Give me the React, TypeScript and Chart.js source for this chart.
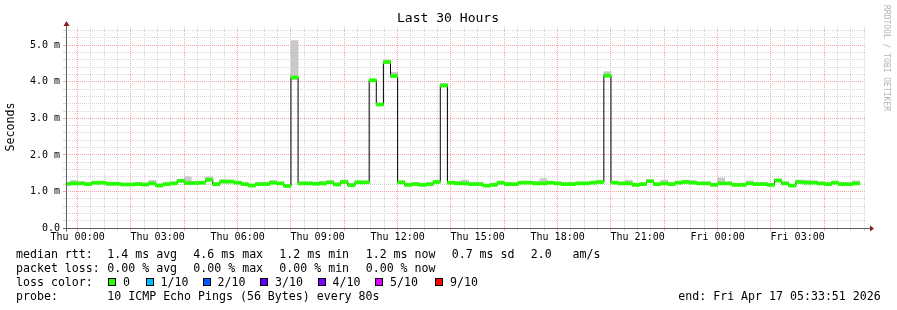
import React, { useEffect, useRef } from 'react';
import { Chart, registerables } from 'chart.js';

Chart.register(...registerables);

// ---- time layout (minutes relative to Thu 00:00) ----
const STEP_MIN = 16; // RRD consolidation step
const FIRST_BIN_START = -32;
const X_MIN = -26.15; // Wed 23:33:51
const X_MAX = 1773.85; // Fri 05:33:51
const X_GRID_MIN = 30;
const X_MAJOR_MIN = 120;
const X_LABEL_MIN = 180;
const DAY_NAMES = ['Thu', 'Fri'];

// ---- values axis (ms) ----
const Y_MAX = 5.5;
const Y_GRID = 0.2;

// ---- series (ms), one value per 16-minute bin ----
const medianRtt = [
  1.21, 1.22, 1.22, 1.20, 1.24, 1.24, 1.21, 1.21, 1.19, 1.19, 1.20, 1.19, 1.22, 1.16, 1.20, 1.22,
  1.29, 1.23, 1.23, 1.24, 1.32, 1.20, 1.27, 1.27, 1.24, 1.20, 1.16, 1.20, 1.20, 1.24, 1.22, 1.15,
  4.12, 1.22, 1.22, 1.21, 1.22, 1.25, 1.19, 1.26, 1.17, 1.25, 1.25, 4.04, 3.38, 4.54, 4.16, 1.25,
  1.18, 1.20, 1.18, 1.20, 1.26, 3.90, 1.24, 1.22, 1.22, 1.20, 1.20, 1.16, 1.18, 1.24, 1.20, 1.20,
  1.24, 1.24, 1.22, 1.22, 1.24, 1.22, 1.20, 1.20, 1.22, 1.22, 1.24, 1.26, 4.17, 1.24, 1.22, 1.22,
  1.18, 1.20, 1.28, 1.20, 1.22, 1.20, 1.24, 1.26, 1.24, 1.22, 1.22, 1.18, 1.22, 1.22, 1.18, 1.18,
  1.22, 1.20, 1.20, 1.18, 1.30, 1.22, 1.16, 1.26, 1.24, 1.24, 1.22, 1.20, 1.24, 1.20, 1.20, 1.22,
];
const smokeHigh = [
  1.25, 1.30, 1.27, 1.24, 1.27, 1.28, 1.25, 1.24, 1.23, 1.23, 1.25, 1.23, 1.30, 1.21, 1.24, 1.26,
  1.32, 1.40, 1.27, 1.28, 1.40, 1.24, 1.32, 1.31, 1.28, 1.24, 1.21, 1.24, 1.25, 1.30, 1.26, 1.19,
  5.13, 1.26, 1.26, 1.25, 1.28, 1.29, 1.24, 1.31, 1.22, 1.29, 1.28, 4.08, 3.42, 4.60, 4.26, 1.29,
  1.22, 1.25, 1.22, 1.24, 1.30, 3.96, 1.28, 1.28, 1.31, 1.24, 1.25, 1.20, 1.22, 1.28, 1.25, 1.24,
  1.28, 1.28, 1.28, 1.35, 1.28, 1.26, 1.24, 1.25, 1.26, 1.26, 1.28, 1.30, 4.28, 1.28, 1.26, 1.31,
  1.23, 1.24, 1.32, 1.24, 1.31, 1.24, 1.28, 1.30, 1.30, 1.26, 1.26, 1.22, 1.37, 1.26, 1.22, 1.23,
  1.29, 1.24, 1.25, 1.22, 1.34, 1.26, 1.20, 1.31, 1.31, 1.29, 1.26, 1.24, 1.28, 1.25, 1.24, 1.29,
];
const smokeLow = [
  1.16, 1.18, 1.19, 1.17, 1.20, 1.20, 1.17, 1.18, 1.16, 1.16, 1.17, 1.15, 1.18, 1.13, 1.17, 1.19,
  1.25, 1.19, 1.20, 1.20, 1.28, 1.17, 1.23, 1.23, 1.21, 1.17, 1.13, 1.17, 1.17, 1.21, 1.19, 1.12,
  4.06, 1.19, 1.19, 1.18, 1.19, 1.22, 1.16, 1.22, 1.14, 1.22, 1.22, 4.01, 3.35, 4.50, 4.12, 1.21,
  1.15, 1.17, 1.15, 1.17, 1.23, 3.86, 1.21, 1.19, 1.19, 1.17, 1.17, 1.13, 1.15, 1.20, 1.17, 1.17,
  1.21, 1.21, 1.18, 1.19, 1.21, 1.19, 1.17, 1.17, 1.19, 1.19, 1.21, 1.23, 4.13, 1.21, 1.19, 1.19,
  1.15, 1.17, 1.24, 1.17, 1.19, 1.17, 1.21, 1.22, 1.21, 1.19, 1.19, 1.15, 1.19, 1.19, 1.15, 1.15,
  1.19, 1.17, 1.17, 1.15, 1.26, 1.19, 1.13, 1.22, 1.21, 1.21, 1.19, 1.17, 1.21, 1.17, 1.17, 1.19,
];

// ---- legend text ----
const TITLE = 'Last 30 Hours';
const Y_TITLE = 'Seconds';
const rttLabel = 'median rtt:';
const rttStats = ['1.4 ms avg', '4.6 ms max', '1.2 ms min', '1.2 ms now', '0.7 ms sd', '2.0   am/s'];
const lossLabel = 'packet loss:';
const lossStats = ['0.00 % avg', '0.00 % max', '0.00 % min', '0.00 % now'];
const lossColorLabel = 'loss color:';
const lossLabels = ['0', '1/10', '2/10', '3/10', '4/10', '5/10', '9/10'];
const lossColors = ['#26ff00', '#00b8ff', '#0059ff', '#5e00ff', '#7e00ff', '#dd00ff', '#ff0000'];
const probeLabel = 'probe:';
const probeText = '10 ICMP Echo Pings (56 Bytes) every 80s';
const endText = 'end: Fri Apr 17 05:33:51 2026';
const WATERMARK = 'RRDTOOL / TOBI OETIKER';

const MONO = '"DejaVu Sans Mono", monospace';
const MINOR_GRID = '#d6d6d6';
const MAJOR_GRID = '#f4a4a4';
const AXIS_COLOR = '#606060';
const ARROW_COLOR = '#8c1c1c';
const SMOKE_COLOR = '#c8c8c8';
const GREEN_HALF = 0.041;

function xLabel(v: number): string {
  if (Math.round(v) % X_LABEL_MIN !== 0) return '';
  const day = Math.floor(v / 1440);
  const mins = v - day * 1440;
  const hh = String(Math.floor(mins / 60)).padStart(2, '0');
  const mm = String(mins % 60).padStart(2, '0');
  return `${DAY_NAMES[day]} ${hh}:${mm}`;
}

function yLabel(v: number): string {
  if (Math.abs(v - Math.round(v)) > 1e-6) return '';
  return Math.round(v) === 0 ? '0.0' : `${v.toFixed(1)} m`;
}

const decorPlugin = {
  id: 'rrdDecor',
  afterDraw(chart: any) {
    const ctx = chart.ctx as CanvasRenderingContext2D;
    const area = chart.chartArea;
    const ys = chart.scales.y;
    ctx.save();

    // axes
    const y0 = Math.round(ys.getPixelForValue(0) - 0.5) + 0.5;
    const xAxis = area.left + 0.5;
    ctx.strokeStyle = AXIS_COLOR;
    ctx.lineWidth = 1;
    ctx.beginPath();
    ctx.moveTo(area.left - 3, y0);
    ctx.lineTo(area.right + 4, y0);
    ctx.moveTo(xAxis, y0 + 3);
    ctx.lineTo(xAxis, area.top - 3);
    ctx.stroke();
    // arrows
    ctx.fillStyle = ARROW_COLOR;
    ctx.beginPath();
    ctx.moveTo(area.right + 4, y0 - 3);
    ctx.lineTo(area.right + 8, y0);
    ctx.lineTo(area.right + 4, y0 + 3);
    ctx.closePath();
    ctx.fill();
    ctx.beginPath();
    ctx.moveTo(xAxis - 3, area.top - 1);
    ctx.lineTo(xAxis, area.top - 6);
    ctx.lineTo(xAxis + 3, area.top - 1);
    ctx.closePath();
    ctx.fill();

    // title
    ctx.fillStyle = '#000';
    ctx.textBaseline = 'middle';
    ctx.textAlign = 'center';
    ctx.font = `13.05px ${MONO}`;
    ctx.fillText(TITLE, 448, 19);

    // y axis title
    ctx.save();
    ctx.translate(11, 127);
    ctx.rotate(-Math.PI / 2);
    ctx.font = `11.6px ${MONO}`;
    ctx.fillText(Y_TITLE, 0, 0);
    ctx.restore();

    // watermark
    ctx.save();
    ctx.translate(886, 58);
    ctx.rotate(Math.PI / 2);
    ctx.fillStyle = '#b4b4b4';
    ctx.font = `8px ${MONO}`;
    ctx.fillText(WATERMARK, 0, 0);
    ctx.restore();

    // legend
    ctx.textAlign = 'left';
    ctx.font = `11.6px ${MONO}`;
    ctx.fillStyle = '#000';
    const cols = [107.3, 193.3, 279.3, 365.7, 451.7, 530.7];
    const rows = [254.5, 268.5, 282.5, 296.5];
    ctx.fillText(rttLabel, 16, rows[0]);
    rttStats.forEach((s, i) => ctx.fillText(s, cols[i], rows[0]));
    ctx.fillText(lossLabel, 16, rows[1]);
    lossStats.forEach((s, i) => ctx.fillText(s, cols[i], rows[1]));
    ctx.fillText(lossColorLabel, 16, rows[2]);
    const boxX = [108, 145.5, 202.5, 260, 317.5, 375, 435];
    lossLabels.forEach((s, i) => {
      const bx = Math.round(boxX[i]);
      ctx.fillStyle = lossColors[i];
      ctx.fillRect(bx, 278, 8, 8);
      ctx.strokeStyle = '#000';
      ctx.strokeRect(bx + 0.5, 278.5, 7, 7);
      ctx.fillStyle = '#000';
      ctx.fillText(s, boxX[i] + 15, rows[2]);
    });
    ctx.fillText(probeLabel, 16, rows[3]);
    ctx.fillText(probeText, 107.3, rows[3]);
    ctx.fillText(endText, 678.3, rows[3]);

    ctx.restore();
  },
};

export default function App() {
  const canvasRef = useRef<HTMLCanvasElement>(null);

  useEffect(() => {
    document.body.style.margin = '0';
    const canvas = canvasRef.current;
    if (!canvas) return;

    const binStarts = medianRtt.map((_, i) => FIRST_BIN_START + STEP_MIN * i);
    const centers = binStarts.map((s) => s + STEP_MIN / 2);
    const last = medianRtt.length - 1;
    const stepPts = medianRtt.map((v, i) => ({ x: binStarts[i], y: v }));
    stepPts.push({ x: binStarts[last] + STEP_MIN, y: medianRtt[last] });

    const xTicks: number[] = [];
    for (let t = Math.ceil(X_MIN / X_GRID_MIN) * X_GRID_MIN; t <= X_MAX; t += X_GRID_MIN) xTicks.push(t);
    const yTicks: number[] = [];
    for (let i = 0; i * Y_GRID <= Y_MAX + 1e-9; i++) yTicks.push(Math.round(i * Y_GRID * 10) / 10);

    const chart = new Chart(canvas, {
      type: 'bar',
      data: {
        datasets: [
          {
            type: 'bar',
            label: 'smoke',
            data: centers.map((c, i) => ({ x: c, y: [smokeLow[i], smokeHigh[i]] })) as any,
            backgroundColor: SMOKE_COLOR,
            borderWidth: 0,
            grouped: false,
            barPercentage: 1,
            categoryPercentage: 1,
            order: 3,
            clip: 0,
          } as any,
          {
            type: 'line',
            label: 'median',
            data: stepPts as any,
            borderColor: '#000',
            borderWidth: 1,
            stepped: true,
            pointRadius: 0,
            fill: false,
            order: 2,
            clip: 0,
          } as any,
          {
            type: 'bar',
            label: 'loss 0',
            data: centers.map((c, i) => ({ x: c, y: [medianRtt[i] - GREEN_HALF, medianRtt[i] + GREEN_HALF] })) as any,
            backgroundColor: lossColors[0],
            borderWidth: 0,
            grouped: false,
            barPercentage: 1,
            categoryPercentage: 1,
            order: 1,
            clip: 0,
          } as any,
        ],
      },
      options: {
        responsive: false,
        animation: false,
        devicePixelRatio: 1,
        layout: { padding: { top: 27, right: 31, left: 0, bottom: 0 } },
        plugins: { legend: { display: false }, tooltip: { enabled: false }, title: { display: false } },
        scales: {
          x: {
            type: 'linear',
            min: X_MIN,
            max: X_MAX,
            offset: false,
            afterBuildTicks: (scale: any) => {
              scale.ticks = xTicks.map((v) => ({ value: v }));
            },
            afterFit: (scale: any) => {
              scale.height = 82;
            },
            grid: {
              offset: false,
              color: (c: any) => (c.tick && Math.round(c.tick.value) % X_MAJOR_MIN === 0 ? MAJOR_GRID : MINOR_GRID),
              tickLength: 3,
              lineWidth: 1,
            },
            border: { display: false, dash: [1, 1] },
            ticks: {
              autoSkip: false,
              maxRotation: 0,
              padding: 0,
              color: '#000',
              font: { family: MONO, size: 10 },
              callback: (v: any) => xLabel(Number(v)),
            },
          },
          y: {
            type: 'linear',
            min: 0,
            max: Y_MAX,
            afterBuildTicks: (scale: any) => {
              scale.ticks = yTicks.map((v) => ({ value: v }));
            },
            afterFit: (scale: any) => {
              scale.width = 66;
            },
            grid: {
              color: (c: any) =>
                c.tick && Math.abs(c.tick.value - Math.round(c.tick.value)) < 1e-6 ? MAJOR_GRID : MINOR_GRID,
              tickLength: 3,
              lineWidth: 1,
            },
            border: { display: false, dash: [1, 1] },
            ticks: {
              autoSkip: false,
              padding: 3,
              color: '#000',
              font: { family: MONO, size: 10 },
              callback: (v: any) => yLabel(Number(v)),
            },
          },
        },
      } as any,
      plugins: [decorPlugin],
    });

    return () => chart.destroy();
  }, []);

  return <canvas ref={canvasRef} width={897} height={310} style={{ display: 'block' }} />;
}
